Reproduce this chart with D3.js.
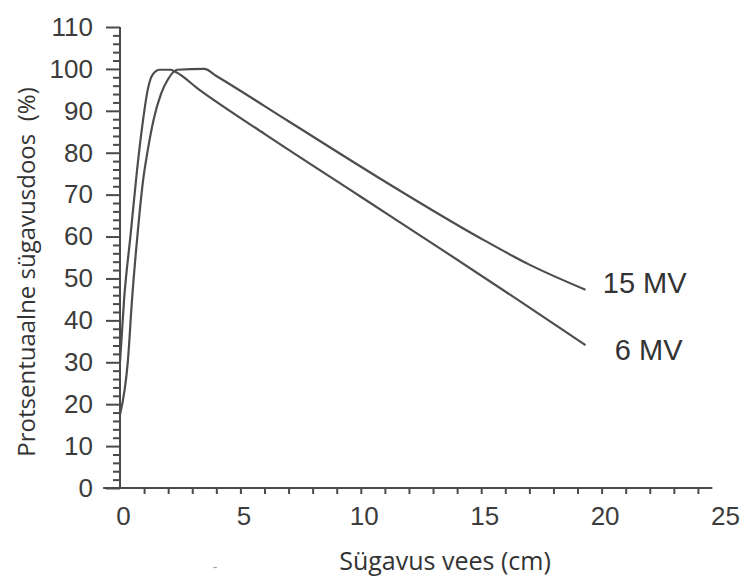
<!DOCTYPE html>
<html>
<head>
<meta charset="utf-8">
<script src="https://cdn.jsdelivr.net/npm/d3@7"></script>
<style>
  body { margin: 0; background: #fff; }
  svg { display: block; }
</style>
</head>
<body>
<div class="graph-pane"></div>
<script>
// depth in water (cm) and percent depth dose
const depth6 = [0, 0.17, 0.45, 0.71, 0.95, 1.15, 1.35, 1.65, 2.1, 2.3, 3.3, 6, 10, 13.6, 16.76, 19.33];
const dose6  = [30, 45, 61, 76, 87.5, 95, 98.6, 99.8, 99.8, 99.3, 95, 84.5, 69.5, 56, 44, 34.1];
const depth15 = [0, 0.33, 0.5, 0.72, 0.95, 1.15, 1.4, 1.7, 2.0, 2.37, 3.5, 4, 7, 10.81, 14.97, 17, 19.33];
const dose15  = [17.5, 30.5, 45, 60, 73, 80.5, 88, 94, 97.6, 99.8, 100, 98.3, 87.5, 73.8, 59.6, 53.3, 47.3];

const seriesNames = ["15 MV", "6 MV"];
const labelDepth = [20.05, 20.55];
const labelDose = [46.5, 30.5];

const xTickLabels = [0, 5, 10, 15, 20, 25];
const yTickLabels = [0, 10, 20, 30, 40, 50, 60, 70, 80, 90, 100, 110];

const xTitle = "Sügavus vees (cm)";
const yTitle = "Protsentuaalne sügavusdoos  (%)";

const width = 746, height = 577;

const svg = d3.select(".graph-pane")
  .append("svg")
  .attr("width", width)
  .attr("height", height);

const xScale = d3.scaleLinear().domain([0, 25]).range([120, 722]);
const yScale = d3.scaleLinear().domain([0, 110]).range([488, 27]);

const axisColor = "#4a4a4a";
const textColor = "#3c3c3c";

// y axis: major ticks with labels, minor ticks every 2
svg.append("g")
  .attr("transform", "translate(" + xScale(0) + ",0)")
  .call(d3.axisLeft(yScale).tickValues(d3.range(0, 111, 2).filter(v => v % 10 != 0)).tickSize(7).tickFormat(""))
  .call(g => g.select(".domain").remove())
  .call(g => g.selectAll("line").attr("stroke", axisColor).attr("stroke-width", 2));

svg.append("g")
  .attr("transform", "translate(" + xScale(0) + ",0)")
  .call(d3.axisLeft(yScale).tickValues(yTickLabels).tickSize(14).tickPadding(13))
  .call(g => g.select(".domain").remove())
  .call(g => g.selectAll("line").attr("stroke", axisColor).attr("stroke-width", 2))
  .call(g => g.selectAll("text")
    .attr("fill", textColor)
    .style("font-family", "'Liberation Sans', Arial, sans-serif")
    .style("font-size", "26px"));

svg.append("line")
  .attr("x1", xScale(0)).attr("x2", xScale(0))
  .attr("y1", yScale(0)).attr("y2", yScale(110))
  .attr("stroke", axisColor).attr("stroke-width", 2);

// x axis: small ticks every cm, labels every 5
svg.append("g")
  .attr("transform", "translate(0," + yScale(0) + ")")
  .call(d3.axisBottom(xScale).tickValues(d3.range(1, 25)).tickSize(6).tickFormat(""))
  .call(g => g.select(".domain").remove())
  .call(g => g.selectAll("line").attr("stroke", axisColor).attr("stroke-width", 2));

svg.append("g")
  .attr("transform", "translate(3," + yScale(0) + ")")
  .call(d3.axisBottom(xScale).tickValues(xTickLabels).tickSize(0).tickPadding(19))
  .call(g => g.select(".domain").remove())
  .call(g => g.selectAll("text")
    .attr("fill", textColor)
    .style("font-family", "'Liberation Sans', Arial, sans-serif")
    .style("font-size", "26px"));

svg.append("line")
  .attr("x1", xScale(-0.7)).attr("x2", xScale(24.6))
  .attr("y1", yScale(0)).attr("y2", yScale(0))
  .attr("stroke", axisColor).attr("stroke-width", 2);

// curves
var line = d3.line()
  .x(d => xScale(d[0]))
  .y(d => yScale(d[1]))
  .curve(d3.curveMonotoneX);

const curves = [d3.zip(depth15, dose15), d3.zip(depth6, dose6)];

svg.selectAll(".pdd")
  .data(curves)
  .enter()
  .append("path")
  .attr("class", "pdd")
  .attr("fill", "none")
  .attr("stroke", "#4d4d4d")
  .attr("stroke-width", 2.2)
  .attr("stroke-linejoin", "round")
  .attr("d", line);

// curve labels
svg.selectAll(".curve-label")
  .data(seriesNames)
  .enter()
  .append("text")
  .attr("class", "curve-label")
  .attr("x", (d, i) => xScale(labelDepth[i]))
  .attr("y", (d, i) => yScale(labelDose[i]))
  .attr("fill", "#333")
  .style("font-family", "'Liberation Sans', Arial, sans-serif")
  .style("font-size", "29px")
  .text(d => d);

// axis titles
svg.append("text")
  .attr("x", 445)
  .attr("y", 570)
  .attr("text-anchor", "middle")
  .attr("fill", "#333")
  .style("font-family", "'Open Sans', sans-serif")
  .style("font-size", "25px")
  .text(xTitle);

svg.append("text")
  .attr("transform", "translate(35,272) rotate(-90)")
  .attr("text-anchor", "middle")
  .attr("fill", "#333")
  .style("font-family", "'Open Sans', sans-serif")
  .style("font-size", "24px")
  .style("white-space", "pre")
  .text(yTitle);

// stray mark under the axis title
svg.append("text")
  .attr("x", 215)
  .attr("y", 572)
  .attr("text-anchor", "middle")
  .attr("fill", "#999")
  .style("font-family", "'Open Sans', sans-serif")
  .style("font-size", "14px")
  .text("-");
</script>
</body>
</html>
